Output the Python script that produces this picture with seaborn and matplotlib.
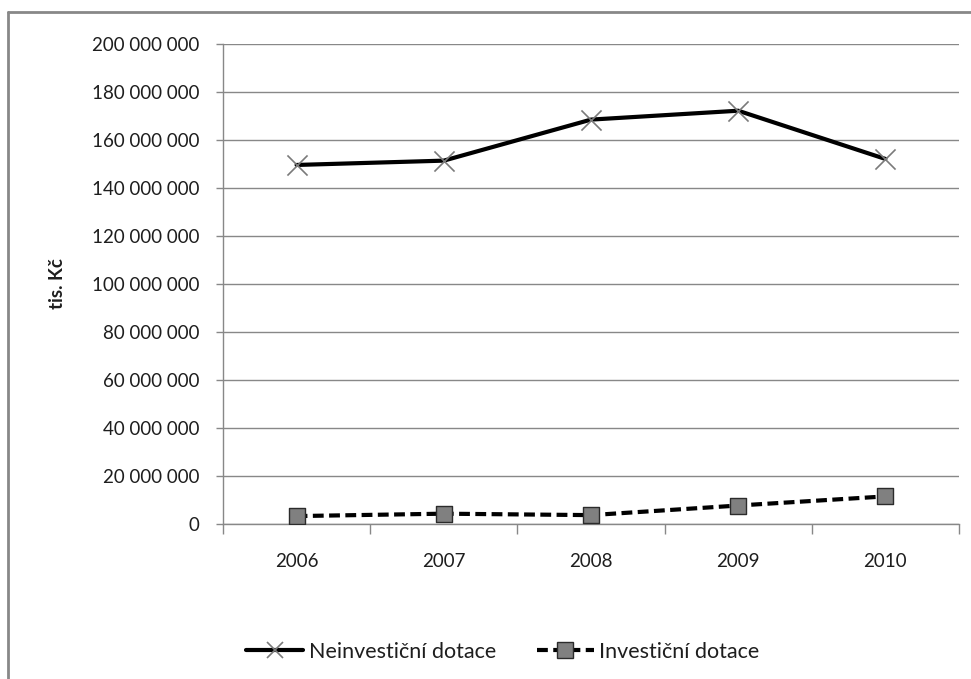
import matplotlib
matplotlib.use("Agg")
import matplotlib.pyplot as plt
from matplotlib.lines import Line2D
from matplotlib.ticker import FuncFormatter, FixedLocator
import seaborn as sns
import pandas as pd

years = [2006, 2007, 2008, 2009, 2010]
neinvesticni = [149_600_000, 151_400_000, 168_500_000, 172_200_000, 152_100_000]
investicni = [3_300_000, 4_300_000, 3_700_000, 7_700_000, 11_500_000]
series_names = ["Neinvestiční dotace", "Investiční dotace"]
y_ticks = list(range(0, 200_000_001, 20_000_000))

df = pd.DataFrame({
    "rok": years * 2,
    "hodnota": neinvesticni + investicni,
    "typ": [series_names[0]] * len(years) + [series_names[1]] * len(years),
})

sns.set_theme(style="white")
plt.rcParams["font.family"] = ["Lato", "DejaVu Sans"]

fig = plt.figure(figsize=(9.71, 6.79), dpi=100)
ax = fig.add_axes([223 / 971, 1 - 524 / 679, (959 - 223) / 971, (524 - 44) / 679])

grey = "#888888"
text_col = "#1e1e1e"
dash = (2.6, 1.3)

sns.lineplot(
    data=df, x="rok", y="hodnota", hue="typ", style="typ",
    palette={series_names[0]: "black", series_names[1]: "black"},
    dashes={series_names[0]: "", series_names[1]: dash},
    markers=False, linewidth=3.0, ax=ax, legend=False,
)

# markers drawn separately so their colours differ from the lines
ax.scatter(years, neinvesticni, marker="x", s=210, c="#7a7a7a", linewidths=1.2, zorder=5)
ax.scatter(years, investicni, marker="s", s=135, c="#808080", edgecolors="#2b2b2b",
           linewidths=1.0, zorder=5)

ax.set_xlim(2005.5, 2010.5)
ax.set_ylim(0, 200_000_000)
ax.set_yticks(y_ticks)
ax.yaxis.set_major_formatter(FuncFormatter(lambda v, p: f"{v:,.0f}".replace(",", " ")))
ax.set_xticks(years)
ax.set_xticklabels([str(y) for y in years])
ax.xaxis.set_minor_locator(FixedLocator([2005.5 + i for i in range(6)]))

ax.grid(axis="y", color=grey, linewidth=1.0)
ax.set_axisbelow(True)
for side in ["top", "right"]:
    ax.spines[side].set_visible(False)
for side in ["left", "bottom"]:
    ax.spines[side].set_color(grey)
    ax.spines[side].set_linewidth(1.0)

ax.tick_params(axis="y", which="major", direction="out", length=5, width=1, color=grey,
               labelsize=13.5, labelcolor=text_col, pad=12, left=True)
ax.tick_params(axis="x", which="major", length=0, labelsize=13.5, labelcolor=text_col, pad=21)
ax.tick_params(axis="x", which="minor", direction="out", length=7, width=1, color=grey, bottom=True)

ax.set_xlabel("")
ax.set_ylabel("tis. Kč", fontsize=13.5, fontweight="bold", color=text_col)
ax.yaxis.set_label_coords((66 - 223) / 736, 0.5)

handles = [
    Line2D([0], [0], color="black", lw=3.0, marker="x", markersize=12,
           markeredgecolor="#7a7a7a", markeredgewidth=1.2),
    Line2D([0], [0], color="black", lw=3.0, ls=(0, dash), marker="s", markersize=11,
           markerfacecolor="#808080", markeredgecolor="#2b2b2b"),
]
fig.legend(handles, series_names, loc="center", bbox_to_anchor=(503 / 971, 1 - 652 / 679),
           ncol=2, frameon=False, fontsize=15.5, handlelength=2.65, columnspacing=1.9,
           handletextpad=0.25, labelcolor=text_col)

# chart frame (left and top edges)
fig.add_artist(Line2D([8 / 971, 8 / 971], [0, 1 - 12 / 679], transform=fig.transFigure,
                      color=grey, lw=2))
fig.add_artist(Line2D([8 / 971, 1], [1 - 12 / 679, 1 - 12 / 679], transform=fig.transFigure,
                      color=grey, lw=2))

fig.savefig("out.png", dpi=100, facecolor="white")
